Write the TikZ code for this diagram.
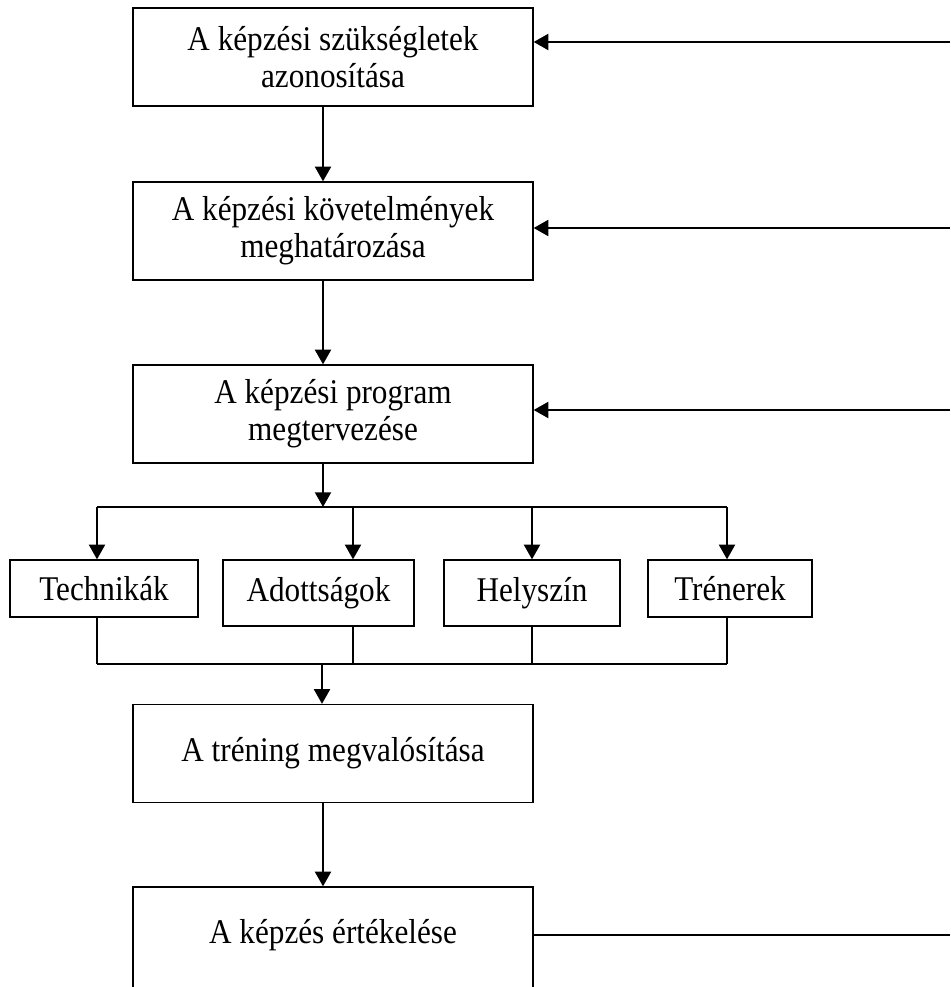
\documentclass[tikz,border=0pt]{standalone}
\usepackage{fontspec}
\setmainfont{Liberation Serif}[FakeStretch=0.9]
\usetikzlibrary{arrows.meta}

\tikzset{
	doboz/.style={draw, line width=1pt, align=center, minimum width=300pt, minimum height=73.5pt, inner sep=0pt},
	kisdoboz/.style={draw, line width=1pt, inner sep=0pt},
	nyil/.style={line width=1.5pt, -{Triangle[length=11pt,width=12pt]}},
	vonal/.style={line width=1pt}
}

\begin{document}
\begin{tikzpicture}[x=0.75pt, y=-0.75pt, font=\fontsize{26}{28}\selectfont]

\useasboundingbox (0,0) rectangle (950,987);
\clip (0,0) rectangle (950,987);

% Fo lepesek
\node[doboz] (igeny) at (333,57) {A képzési szükségletek\\azonosítása};
\node[doboz] (kovet) at (333,231) {A képzési követelmények\\meghatározása};
\node[doboz] (terv) at (333,414) {A képzési program\\megtervezése};
\node[doboz] (trening) at (333,753.5) {A tréning megvalósítása};
\node[doboz, minimum height=90pt, text depth=23pt] (ertek) at (333,947) {A képzés értékelése};

% Reszek
\node[kisdoboz, minimum width=141pt, minimum height=42.75pt] (tech) at (104,588.5) {Technikák};
\node[kisdoboz, minimum width=143.25pt, minimum height=49.5pt] (adott) at (318.5,593) {Adottságok};
\node[kisdoboz, minimum width=132pt, minimum height=49.5pt] (hely) at (532,593) {Helyszín};
\node[kisdoboz, minimum width=123pt, minimum height=42.75pt] (tren) at (730,588.5) {Trénerek};

\coordinate (ag) at (323,507);
\coordinate (gyujt) at (322,664);
\coordinate (e1) at (97,507);
\coordinate (e2) at (353,507);
\coordinate (e3) at (532,507);
\coordinate (e4) at (727,507);

% Fuggoleges nyilak
\draw[nyil] (igeny.south -| ag) -- (kovet.north -| ag);
\draw[nyil] (kovet.south -| ag) -- (terv.north -| ag);
\draw[nyil] (terv.south -| ag) -- (ag);
\draw[vonal] (e1) -- (e4);
\foreach \e/\n in {e1/tech, e2/adott, e3/hely, e4/tren} {
	\draw[nyil] (\e) -- (\e |- \n.north);
	\draw[vonal] (\e |- \n.south) -- (\e |- gyujt);
}
\draw[vonal] (e1 |- gyujt) -- (e4 |- gyujt);
\draw[nyil] (gyujt) -- (gyujt |- trening.north);
\draw[nyil] (trening.south -| ag) -- (ertek.north -| ag);

% Visszacsatolas
\coordinate (r1) at (950,42);
\coordinate (r2) at (950,228);
\coordinate (r3) at (950,410);
\coordinate (r4) at (950,935);
\draw[nyil] (r1) -- (r1 -| igeny.east);
\draw[nyil] (r2) -- (r2 -| kovet.east);
\draw[nyil] (r3) -- (r3 -| terv.east);
\draw[line width=1.5pt] (ertek.east |- r4) -- (r4);

\end{tikzpicture}
\end{document}
